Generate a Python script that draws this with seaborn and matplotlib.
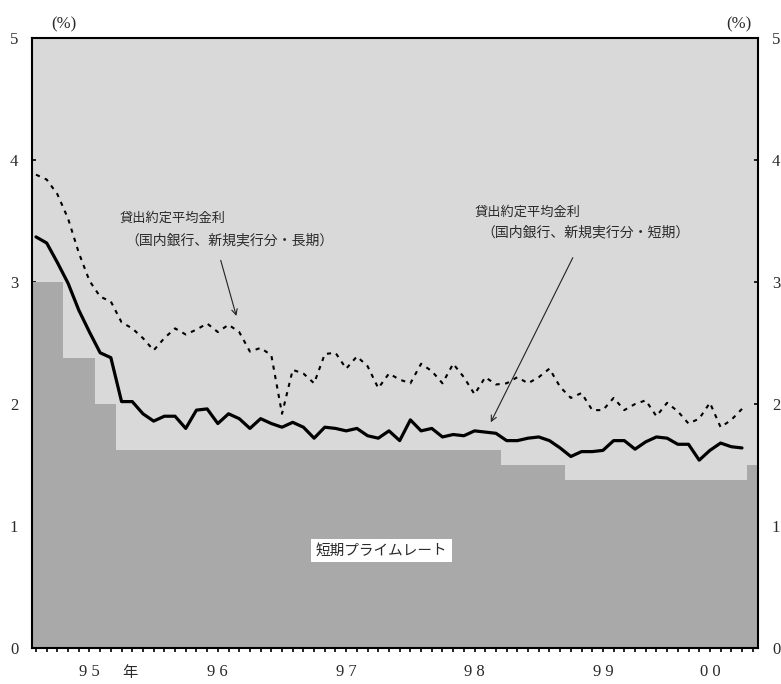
import matplotlib
matplotlib.use("Agg")

import matplotlib.pyplot as plt
import matplotlib.transforms as mtransforms
from matplotlib.ticker import FixedLocator
import numpy as np
import pandas as pd
import seaborn as sns

# monthly data, Jan 1995 .. Jul 2000 (%)
short_rate = [3.37, 3.32, 3.16, 2.99, 2.77, 2.59, 2.42, 2.38, 2.02, 2.02, 1.92, 1.86,
              1.90, 1.90, 1.80, 1.95, 1.96, 1.84, 1.92, 1.88, 1.80, 1.88, 1.84, 1.81,
              1.85, 1.81, 1.72, 1.81, 1.80, 1.78, 1.80, 1.74, 1.72, 1.78, 1.70, 1.87,
              1.78, 1.80, 1.73, 1.75, 1.74, 1.78, 1.77, 1.76, 1.70, 1.70, 1.72, 1.73,
              1.70, 1.64, 1.57, 1.61, 1.61, 1.62, 1.70, 1.70, 1.63, 1.69, 1.73, 1.72,
              1.67, 1.67, 1.54, 1.62, 1.68, 1.65, 1.64]
long_rate = [3.88, 3.84, 3.72, 3.52, 3.24, 3.01, 2.88, 2.84, 2.67, 2.62, 2.54, 2.44,
             2.54, 2.62, 2.57, 2.61, 2.66, 2.59, 2.65, 2.59, 2.43, 2.46, 2.40, 1.92,
             2.28, 2.25, 2.17, 2.41, 2.42, 2.29, 2.39, 2.31, 2.13, 2.25, 2.20, 2.17,
             2.33, 2.27, 2.17, 2.33, 2.22, 2.08, 2.22, 2.16, 2.17, 2.22, 2.17, 2.22,
             2.29, 2.14, 2.05, 2.09, 1.95, 1.95, 2.05, 1.95, 2.00, 2.03, 1.90, 2.01,
             1.94, 1.84, 1.88, 2.01, 1.81, 1.87, 1.96]

# short-term prime rate: month index where each level starts, and the level
prime_start = [0, 3, 6, 8, 44, 50, 67]
prime_level = [3.0, 2.375, 2.0, 1.625, 1.5, 1.375, 1.5]
prime_end = 68

year_labels = ["9 5", "9 6", "9 7", "9 8", "9 9", "0 0"]
year_label_month = [5, 17, 29, 41, 53, 63]

LIGHT = "#d9d9d9"
DARK = "#a9a9a9"
TEXT = "#2a2a2a"
JP = ["Noto Sans CJK JP", "DejaVu Sans"]
SERIF = ["Liberation Serif", "DejaVu Serif"]

sns.set_style("white")
plt.rcParams["font.family"] = JP

months = np.arange(len(short_rate))
dates = pd.date_range("1995-01-01", periods=prime_end, freq="MS")

fig = plt.figure(figsize=(7.81, 6.84), dpi=100)
ax = fig.add_axes([0.041, 0.0526, 0.9296, 0.8918])
ax.set_facecolor(LIGHT)

edges = np.array(prime_start + [prime_end]) - 0.5
ax.stairs(prime_level, edges, fill=True, color=DARK, baseline=0, zorder=1)

sns.lineplot(x=months, y=long_rate, ax=ax, color="black", lw=1.5,
             linestyle=(0, (2, 2.6)), zorder=3)
sns.lineplot(x=months, y=short_rate, ax=ax, color="black", lw=2.3, zorder=4)

ax.set_xlim(-0.37, 67.5)
ax.set_ylim(0, 5)
ax.set_xlabel("")
ax.set_ylabel("")

# x ticks: every month below the axis, long ticks at Dec / Jan inside
year_ticks = [i for i, d in enumerate(dates) if d.month in (1, 12)]
ax.xaxis.set_major_locator(FixedLocator(year_ticks))
ax.xaxis.set_minor_locator(FixedLocator(np.arange(prime_end)))
ax.xaxis.remove_overlapping_locs = False
ax.tick_params(axis="x", which="major", direction="in", length=9.5, width=1.4,
               color="black", bottom=True, labelbottom=False)
ax.tick_params(axis="x", which="minor", direction="out", length=3, width=1.2,
               color="black", bottom=True)

ax.set_yticks(range(6))
ax.tick_params(axis="y", direction="in", length=3, width=1.2, color="black",
               left=True, right=True, labelleft=True, labelright=True, pad=10,
               labelsize=12, labelcolor=TEXT)
for t in ax.yaxis.get_major_ticks():
    t.label1.set_fontfamily(SERIF)
    t.label2.set_fontfamily(SERIF)

for sp in ax.spines.values():
    sp.set_visible(True)
    sp.set_color("black")
    sp.set_linewidth(1.5)

trans = mtransforms.blended_transform_factory(ax.transData, ax.transAxes)
for lab, m in zip(year_labels, year_label_month):
    ax.text(m, -0.04, lab, transform=trans, ha="center", va="center",
            fontsize=12, color=TEXT, family=SERIF)
ax.text(8.8, -0.04, "年", transform=trans, ha="center", va="center",
        fontsize=11, color=TEXT, family=JP)

ax.text(0.044, 1.023, "(%)", transform=ax.transAxes, ha="center", va="center",
        fontsize=12, color=TEXT, family=SERIF)
ax.text(0.974, 1.023, "(%)", transform=ax.transAxes, ha="center", va="center",
        fontsize=12, color=TEXT, family=SERIF)

# annotations
ax.text(7.85, 3.52, "貸出約定平均金利", ha="left", va="center", fontsize=9.5, color=TEXT)
ax.text(8.4, 3.34, "（国内銀行、新規実行分・長期）", ha="left", va="center",
        fontsize=10, color=TEXT)
ax.annotate("", xy=(18.8, 2.70), xytext=(17.2, 3.20),
            arrowprops=dict(arrowstyle="->", lw=0.8, color="#222222"))

ax.text(41.0, 3.57, "貸出約定平均金利", ha="left", va="center", fontsize=9.5, color=TEXT)
ax.text(41.6, 3.41, "（国内銀行、新規実行分・短期）", ha="left", va="center",
        fontsize=10, color=TEXT)
ax.annotate("", xy=(42.4, 1.83), xytext=(50.3, 3.22),
            arrowprops=dict(arrowstyle="->", lw=0.8, color="#222222"))

ax.text(32.3, 0.80, "短期プライムレート", ha="center", va="center", fontsize=10.5,
        color=TEXT, zorder=5,
        bbox=dict(boxstyle="square,pad=0.3", fc="white", ec="none"))

fig.savefig("out.png", dpi=100)
plt.close(fig)
